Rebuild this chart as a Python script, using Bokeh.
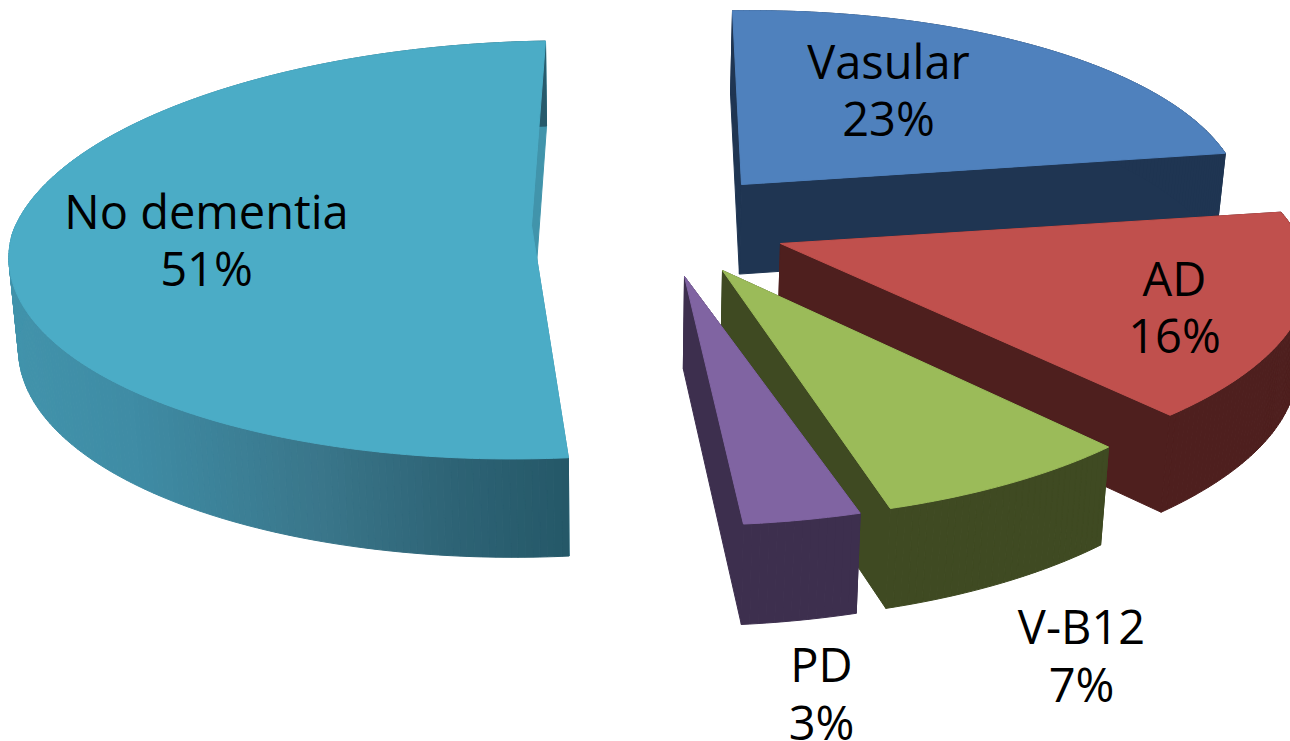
import numpy as np
from bokeh.core.properties import value
from bokeh.embed import file_html
from bokeh.models import Range1d
from bokeh.plotting import figure
from bokeh.resources import INLINE

# Slices run clockwise from twelve o'clock.
categories = ["Vasular", "AD", "V-B12", "PD", "No dementia"]
percent = [23, 16, 7, 3, 51]

# Colours of each slice: top face and side wall.
top_colours = ["#4F81BD", "#C0504D", "#9BBB59", "#8064A2", "#4BACC6"]
wall_colours = ["#1F3552", "#4E1F1E", "#3F4A22", "#3D2F4E", "#4194AB"]

# Projected shape of each exploded slice, in page pixels:
# tip position, radii, foreshortening, lean of far and near sides.
tips = [(741, 184), (780, 243), (722, 270), (684, 276), (531, 225)]
radii = [(496, 194), (517, 195), (497, 200), (510, 199), (519, 206)]
foreshorten = [0.117, 0.20, 0.20, 0.20, 0.117]
leans = [(-9, 0), (0, 0), (0, 15), (0, 19), (14, 0)]
SHEAR = 0.015

# Label placement (centre x, first line y, second line y).
label_pos = [(888, 60, 117), (1174, 277, 334), (1081, 625, 683), (821, 663, 721), (206, 210, 267)]
FONT = "Open Sans"
FONT_SIZE = "47px"

W, H = 1290, 741


def rim(i, phi):
    """Top-face rim point of slice i at clockwise angle phi (radians)."""
    ax, ay = tips[i]
    rx, ry = radii[i]
    k = foreshorten[i]
    far, near = leans[i]
    s, c = np.sin(phi), np.cos(phi)
    w = 1 + k * c
    dx = rx * s / w
    x = ax + dx + far * np.maximum(c, 0) + near * np.maximum(-c, 0)
    y = ay - ry * c / w - SHEAR * dx
    return x, y


def drop(x, y):
    """Where a top-face point lands on the underside of the pie."""
    x = np.asarray(x, float)
    y = np.asarray(y, float)
    return 610 + (x - 610) * 0.984, y + 85 + 0.032 * (y - 41)


def wall_gradient(x):
    """Teal wall shading, darkening towards the front of the big slice."""
    stops = [0, 130, 320, 450, 570]
    r = np.interp(x, stops, [66, 63, 58, 46, 37])
    g = np.interp(x, stops, [148, 140, 118, 100, 88])
    b = np.interp(x, stops, [172, 165, 138, 118, 104])
    return f"#{int(r):02x}{int(g):02x}{int(b):02x}"


p = figure(
    width=W, height=H,
    x_range=Range1d(0, W), y_range=Range1d(H, 0),
    x_axis_location=None, y_axis_location=None,
    toolbar_location=None, output_backend="svg",
    min_border=0, outline_line_color=None,
    background_fill_color="white", border_fill_color="white",
)
p.grid.visible = False

edges = np.cumsum([0] + percent) / sum(percent) * 2 * np.pi

for i, name in enumerate(categories):
    a0, a1 = edges[i], edges[i + 1]
    phis = np.linspace(a0, a1, max(int(percent[i] * 5), 12))
    rx_pts, ry_pts = rim(i, phis)
    tx, ty = tips[i]
    colour = wall_colours[i]

    # Straight walls along the two cut edges.
    for ex, ey in ((rx_pts[0], ry_pts[0]), (rx_pts[-1], ry_pts[-1])):
        bx, by = drop([tx, ex], [ty, ey])
        p.patch([tx, ex, bx[1], bx[0]], [ty, ey, by[1], by[0]],
                fill_color=colour, line_color=colour, line_width=1)

    # Curved outer wall, split into narrow panels so it can carry shading.
    bx, by = drop(rx_pts, ry_pts)
    xs, ys, fills = [], [], []
    for j in range(len(phis) - 1):
        xs.append([rx_pts[j], rx_pts[j + 1], bx[j + 1], bx[j]])
        ys.append([ry_pts[j], ry_pts[j + 1], by[j + 1], by[j]])
        mid = (rx_pts[j] + rx_pts[j + 1]) / 2
        fills.append(wall_gradient(mid) if name == "No dementia" else colour)
    p.patches(xs, ys, fill_color=fills, line_color=fills, line_width=1)

    # Top face.
    p.patch([tx, *rx_pts], [ty, *ry_pts], fill_color=top_colours[i],
            line_color=top_colours[i], line_width=1)

for name, pct, (lx, y1, y2) in zip(categories, percent, label_pos):
    for txt, ly in ((name, y1), (f"{pct}%", y2)):
        p.text([lx], [ly], text=[txt], text_font=value(FONT), text_font_size=FONT_SIZE,
               text_color="#000000", text_align="center", text_baseline="middle")

open("out.html", "w").write(file_html(p, INLINE))
